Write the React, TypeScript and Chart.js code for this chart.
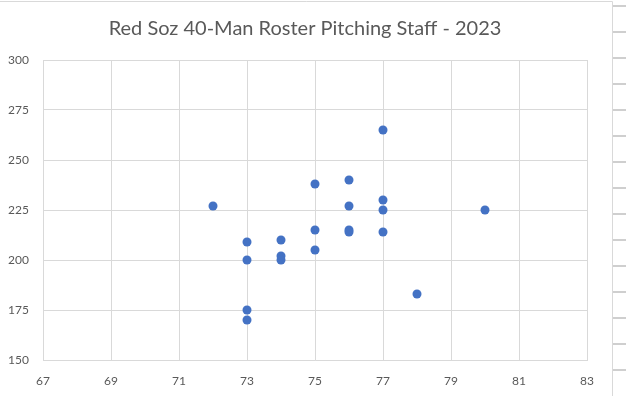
import React, { useEffect, useRef } from "react";
import { Chart, registerables } from "chart.js";

Chart.register(...registerables);

const chartTitle = "Red Soz 40-Man Roster Pitching Staff - 2023";
const heightsIn = [72, 73, 73, 73, 73, 74, 74, 74, 75, 75, 75, 76, 76, 76, 76, 77, 77, 77, 77, 78, 80];
const weightsLb = [227, 209, 200, 175, 170, 210, 202, 200, 238, 215, 205, 240, 227, 215, 214, 265, 230, 225, 214, 183, 225];
const xMin = 67, xMax = 83, xStep = 2;
const yMin = 150, yMax = 300, yStep = 25;

const FONT = "Lato, 'Open Sans', sans-serif";
const GRID = "#d9d9d9";
const TEXT = "#595959";

const framePlugin = {
  id: "frame",
  afterDraw(chart: any) {
    const ctx = chart.ctx;
    ctx.save();
    ctx.fillStyle = TEXT;
    ctx.font = `20px ${FONT}`;
    ctx.textAlign = "center";
    ctx.textBaseline = "middle";
    ctx.fillText(chartTitle, 305, 29);
    ctx.strokeStyle = GRID;
    ctx.lineWidth = 1;
    ctx.beginPath();
    ctx.moveTo(0, 1.5);
    ctx.lineTo(612.5, 1.5);
    ctx.lineTo(612.5, 396);
    ctx.stroke();
    ctx.strokeStyle = "#cfcfcf";
    ctx.lineWidth = 2;
    for (let y = 6; y < 396; y += 26) {
      ctx.beginPath();
      ctx.moveTo(613, y);
      ctx.lineTo(626, y);
      ctx.stroke();
    }
    ctx.restore();
  },
};

export default function App() {
  const ref = useRef<HTMLCanvasElement>(null);
  useEffect(() => {
    if (!ref.current) return;
    const chart = new Chart(ref.current, {
      type: "scatter",
      data: {
        datasets: [
          {
            label: "Weight",
            data: heightsIn.map((h, i) => ({ x: h, y: weightsLb[i] })),
            backgroundColor: "#4472C4",
            borderColor: "#4472C4",
            pointRadius: 4.5,
            pointBorderWidth: 0,
          },
        ],
      },
      options: {
        responsive: false,
        animation: false,
        layout: { padding: { left: 0, right: 39, top: 60, bottom: 0 } },
        plugins: {
          legend: { display: false },
          tooltip: { enabled: false },
          title: { display: false },
        },
        scales: {
          x: {
            type: "linear",
            min: xMin,
            max: xMax,
            afterFit: (s: any) => { s.height = 36; },
            ticks: { stepSize: xStep, color: TEXT, font: { family: FONT, size: 12 }, padding: 14 },
            grid: { color: GRID, drawTicks: false },
            border: { color: GRID },
          },
          y: {
            type: "linear",
            min: yMin,
            max: yMax,
            afterFit: (s: any) => { s.width = 43; },
            ticks: { stepSize: yStep, color: TEXT, font: { family: FONT, size: 12 }, padding: 14 },
            grid: { color: GRID, drawTicks: false },
            border: { color: GRID },
          },
        },
      },
      plugins: [framePlugin],
    });
    return () => chart.destroy();
  }, []);
  return (
    <div style={{ position: "fixed", left: 0, top: 0, width: 626, height: 396, background: "#fff" }}>
      <canvas ref={ref} width={626} height={396} style={{ width: 626, height: 396, display: "block" }} />
    </div>
  );
}
